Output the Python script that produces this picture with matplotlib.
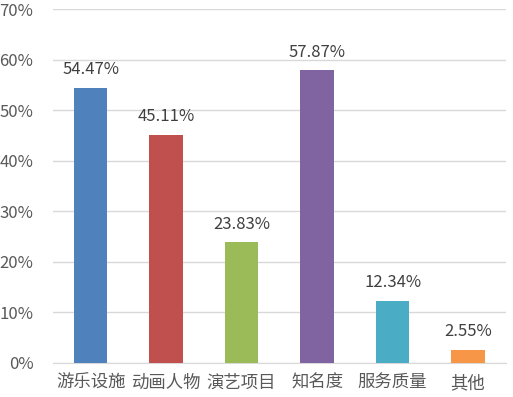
import matplotlib.pyplot as plt
from matplotlib.ticker import FuncFormatter

plt.rcParams['font.family'] = ['Noto Sans CJK SC', 'DejaVu Sans']

categories = ["游乐设施", "动画人物", "演艺项目", "知名度", "服务质量", "其他"]
values = [54.47, 45.11, 23.83, 57.87, 12.34, 2.55]
colors = ["#4F81BD", "#C0504D", "#9BBB59", "#8064A2", "#4BACC6", "#F79646"]

fig = plt.figure(figsize=(5.13, 3.97), dpi=100)
ax = fig.add_axes([0.103, 0.086, 0.883, 0.891])

x = range(len(categories))
ax.bar(x, values, width=0.44, color=colors, zorder=3)
for i, v in enumerate(values):
    ax.annotate(f"{v:.2f}%", (i, v), xytext=(0, 7), textcoords="offset points",
                ha="center", va="bottom", fontsize=12, color="#404040")

ax.set_xlim(-0.5, len(categories) - 0.5)
ax.set_ylim(0, 70)
ax.set_yticks(range(0, 71, 10))
ax.yaxis.set_major_formatter(FuncFormatter(lambda y, _: f"{y:.0f}%"))
ax.set_xticks(list(x))
ax.set_xticklabels(categories, fontsize=12.5)
ax.tick_params(axis="both", length=0, colors="#595959")
ax.tick_params(axis="y", labelsize=12, pad=14)
ax.tick_params(axis="x", pad=8)
ax.grid(axis="y", color="#D9D9D9", linewidth=1, zorder=0)
for s in ["top", "right", "left"]:
    ax.spines[s].set_visible(False)
ax.spines["bottom"].set_color("#D9D9D9")

fig.savefig("out.png", dpi=100)
